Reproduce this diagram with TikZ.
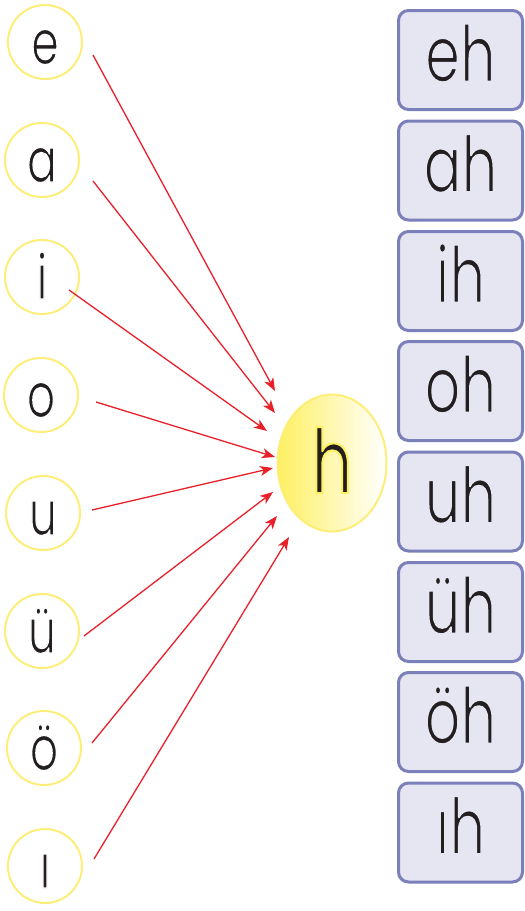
\documentclass[tikz,border=0pt]{standalone}
\usepackage{fontspec}
\setmainfont{Poppins}[FakeStretch=0.72]
\newcommand\thinon[2]{\special{pdf:literal direct 2 Tr #1 RG #2 w 1 j}}
\newcommand\thinoff{\special{pdf:literal direct 0 Tr}}
\newcommand\ltr[1]{\thinon{1 1 1}{1.2}#1\thinoff}
\newcommand\btr[1]{\thinon{0.902 0.902 0.949}{1.8}#1\thinoff}
\newcommand\ctr[1]{\thinon{0.996 0.941 0.384}{2.0}#1\thinoff}
\usetikzlibrary{arrows.meta,shapes.geometric}
\definecolor{circy}{HTML}{FCEE78}
\definecolor{elly}{HTML}{FEF062}
\definecolor{arrred}{HTML}{E8202A}
\definecolor{boxfill}{HTML}{E6E6F2}
\definecolor{boxdraw}{HTML}{7B7FBA}
\definecolor{txt}{HTML}{231F20}
\begin{document}
\begin{tikzpicture}[x=1pt,y=-1pt,
  letter/.style={circle,draw=circy,line width=2pt,minimum size=74pt,inner sep=0pt,
    font=\fontsize{62}{62}\selectfont,text=txt,text height=44pt,text depth=0pt},
  syll/.style={rectangle,draw=boxdraw,fill=boxfill,line width=3pt,rounded corners=10pt,
    minimum width=124pt,minimum height=99pt,inner sep=0pt,
    font=\fontsize{78}{78}\selectfont,text=txt,text height=43pt,text depth=0pt},
  center/.style={ellipse,draw=circy,line width=2pt,minimum width=109pt,minimum height=137pt,
    inner sep=0pt,left color=elly,middle color=elly,right color=white,
    font=\fontsize{89}{89}\selectfont,text=txt,text height=60pt,text depth=0pt},
  link/.style={draw=arrred,line width=1.3pt,-{Stealth[length=13pt,width=10pt,inset=3.5pt]}}]
\useasboundingbox (0,0) rectangle (525,911);
% letters
\node[letter] (e)  at (45,42)  {\ltr{e}};
\node[letter] (a)  at (42,160) {\ltr{a}};
\node[letter] (i)  at (42,277) {\ltr{i}};
\node[letter] (o)  at (41,395) {\ltr{o}};
\node[letter] (u)  at (43,513) {\ltr{u}};
\node[letter] (uu) at (42,631) {\ltr{ü}};
\node[letter] (oo) at (44,748) {\ltr{ö}};
\node[letter] (ii) at (45,866) {\ltr{ı}};
% centre
\node[center] (h) at (332,463) {\ctr{h}};
% syllables
\node[syll] (eh)  at (460.5,60)    {\btr{eh}};
\node[syll] (ah)  at (460.5,170.5) {\btr{ah}};
\node[syll] (ih)  at (460.5,281)   {\btr{ih}};
\node[syll] (oh)  at (460.5,391)   {\btr{oh}};
\node[syll] (uh)  at (460.5,501.5) {\btr{uh}};
\node[syll] (uuh) at (460.5,612)   {\btr{üh}};
\node[syll] (ooh) at (460.5,722)   {\btr{öh}};
\node[syll] (iih) at (460.5,832.5) {\btr{ıh}};
% arrow ends
\coordinate (se)  at (93,55);   \coordinate (te)  at (275,391);
\coordinate (sa)  at (93,181);  \coordinate (ta)  at (275,413);
\coordinate (si)  at (69,290);  \coordinate (ti)  at (267,431);
\coordinate (so)  at (96,402);  \coordinate (to)  at (275,457);
\coordinate (su)  at (92,510);  \coordinate (tu)  at (273,468);
\coordinate (suu) at (84,636);  \coordinate (tuu) at (273,492);
\coordinate (soo) at (92,743);  \coordinate (too) at (277,516);
\coordinate (sii) at (94,859);  \coordinate (tii) at (289,537);
\draw[link] (se) -- (te);
\draw[link] (sa) -- (ta);
\draw[link] (si) -- (ti);
\draw[link] (so) -- (to);
\draw[link] (su) -- (tu);
\draw[link] (suu) -- (tuu);
\draw[link] (soo) -- (too);
\draw[link] (sii) -- (tii);
\end{tikzpicture}
\end{document}
